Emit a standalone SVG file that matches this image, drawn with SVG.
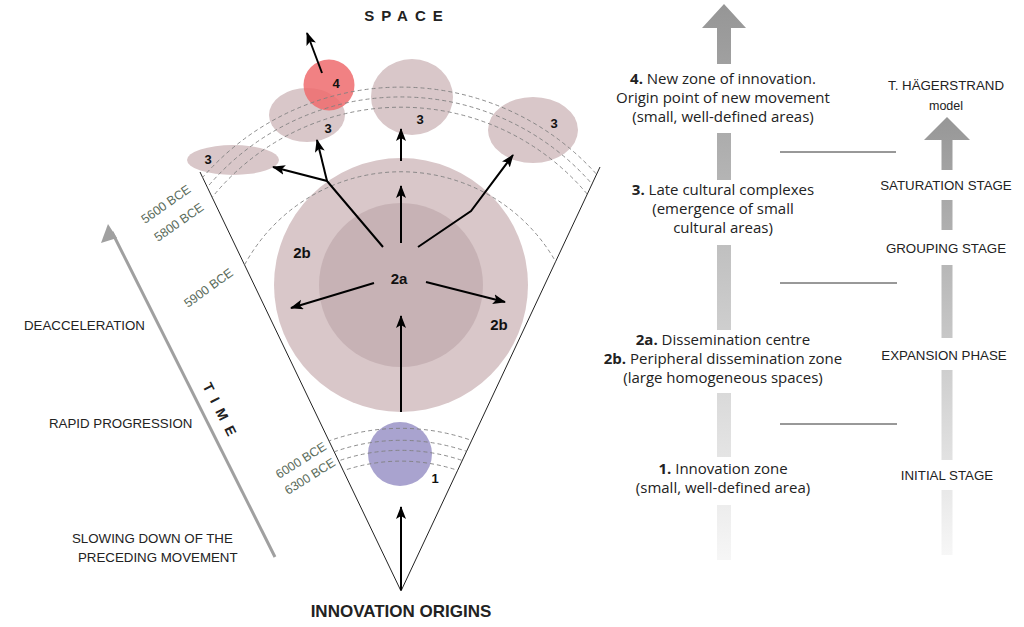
<svg xmlns="http://www.w3.org/2000/svg" width="1024" height="627" viewBox="0 0 1024 627">
<style>
.cap{font-family:"Liberation Sans",Arial,sans-serif;font-size:13.3px;fill:#222}
.body{font-family:"Open Sans","Liberation Sans",sans-serif;font-size:15px;fill:#222;text-anchor:middle}
.num{font-family:"Liberation Sans",Arial,sans-serif;font-size:13px;font-weight:bold;fill:#111;text-anchor:middle}
.date{font-family:"Liberation Sans",Arial,sans-serif;font-size:12.5px;fill:#5a6b5a}
.arr{stroke:#000;stroke-width:2;fill:none;marker-end:url(#ah)}
.dash{stroke:#808080;stroke-width:0.9;fill:none;stroke-dasharray:4 3}
.zone{fill:#d9c7c9}
</style>
<defs>
<marker id="ah" markerUnits="userSpaceOnUse" markerWidth="14" markerHeight="12" refX="12" refY="5" orient="auto">
<path d="M0,0 L13,5 L0,10 L3,5 Z" fill="#000"/>
</marker>
<linearGradient id="gL" gradientUnits="userSpaceOnUse" x1="0" y1="0" x2="0" y2="570">
<stop offset="0" stop-color="#959595"/><stop offset="1" stop-color="#f8f8f8"/>
</linearGradient>
<linearGradient id="gR" gradientUnits="userSpaceOnUse" x1="0" y1="110" x2="0" y2="570">
<stop offset="0" stop-color="#959595"/><stop offset="1" stop-color="#fafafa"/>
</linearGradient>
<clipPath id="cone"><polygon points="401,591 117,0 679,0"/></clipPath>
</defs>

<!-- left axis -->
<g id="time-axis">
<line x1="275" y1="557" x2="112" y2="232" stroke="#a0a0a0" stroke-width="3"/>
<path d="M108,224 L101,243 L117,238 Z" fill="#a0a0a0"/>
<text class="cap" transform="translate(217,415) rotate(63.3)" text-anchor="middle" style="font-size:14px;font-weight:bold;letter-spacing:8px">TIME</text>
</g>
<g id="left-labels">
<text class="cap" x="24" y="330">DEACCELERATION</text>
<text class="cap" x="49" y="428">RAPID PROGRESSION</text>
<text class="cap" x="72" y="543">SLOWING DOWN OF THE</text>
<text class="cap" x="78" y="562">PRECEDING MOVEMENT</text>
</g>

<!-- cone -->
<g id="cone-lines">
<path d="M200,172 L401,591 L600,167" fill="none" stroke="#222" stroke-width="1"/>
</g>

<g id="zone-2b"><circle cx="401" cy="285" r="127" class="zone"/>
<text class="num" x="302" y="258" style="font-size:15px">2b</text>
<text class="num" x="499" y="330" style="font-size:15px">2b</text></g>
<g id="zone-2a"><circle cx="401" cy="285" r="82" fill="#c7b2b5"/>
<text class="num" x="399" y="284" style="font-size:15px">2a</text></g>
<g id="zone-1"><circle cx="400" cy="454" r="32" fill="#a9a3cf"/>
<text class="num" x="435" y="483">1</text></g>

<g id="zone-3a"><ellipse cx="233" cy="160" rx="46" ry="15" class="zone"/><text class="num" x="208" y="164">3</text></g>
<g id="zone-3b"><ellipse cx="307" cy="115" rx="38" ry="27" class="zone"/><text class="num" x="328" y="133">3</text></g>
<g id="zone-4"><circle cx="329" cy="85" r="25.5" fill="#ee6b6d" fill-opacity="0.85"/><text class="num" x="336" y="88">4</text></g>
<g id="zone-3c"><ellipse cx="412" cy="97" rx="41" ry="38" class="zone"/><text class="num" x="420" y="124">3</text></g>
<g id="zone-3d"><ellipse cx="533" cy="130" rx="45" ry="33" class="zone"/><text class="num" x="554" y="128">3</text></g>

<!-- isochrones -->
<g id="isochrones" clip-path="url(#cone)">
<path class="dash" d="M181,206 A263,263 0 0 1 621,206"/>
<path class="dash" d="M181,225 A253,253 0 0 1 621,225"/>
<path class="dash" d="M181,247 A243,243 0 0 1 621,247"/>
<path class="dash" d="M231,297 A178,178 0 0 1 571,297"/>
<path class="dash" d="M321,444 A212,212 0 0 1 481,444"/>
<path class="dash" d="M321,457 A200,200 0 0 1 481,457"/>
<path class="dash" d="M321,468 A190,190 0 0 1 481,468"/>
<path class="dash" d="M321,480 A179,179 0 0 1 481,480"/>
</g>
<g id="dates">
<text class="date" transform="translate(145,224) rotate(-35)">5600 BCE</text>
<text class="date" transform="translate(158,242) rotate(-35)">5800 BCE</text>
<text class="date" transform="translate(188,308) rotate(-36)">5900 BCE</text>
<text class="date" transform="translate(279,479) rotate(-32)">6000 BCE</text>
<text class="date" transform="translate(288,495) rotate(-32)">6300 BCE</text>
</g>

<!-- connectors -->
<g id="connectors">
<path class="arr" d="M401,590 L401,507"/>
<path class="arr" d="M401,412 L401,316"/>
<path class="arr" d="M374,283 L291,308"/>
<path class="arr" d="M426,282 L505,302"/>
<path class="arr" d="M401,243 L401,186"/>
<path class="arr" d="M401,161 L401,129"/>
<path class="arr" d="M383,247 L327,181 L273,167"/>
<path class="arr" d="M327,181 L317,140"/>
<path class="arr" d="M418,247 L471,211 L513,155"/>
<path class="arr" d="M322,73 L307,33"/>
</g>

<g id="title-space"><text class="cap" x="407" y="21" text-anchor="middle" style="font-size:15px;font-weight:bold;letter-spacing:7px">SPACE</text></g>
<g id="title-origins"><text class="cap" x="401" y="617" text-anchor="middle" style="font-size:17px;font-weight:bold">INNOVATION ORIGINS</text></g>

<!-- central stage column -->
<g id="stage-column">
<path d="M724,4 L746,28 L731,28 L731,64 L717,64 L717,28 L702,28 Z" fill="url(#gL)"/>
<rect x="717" y="133" width="14" height="47" fill="url(#gL)"/>
<rect x="717" y="245" width="14" height="85" fill="url(#gL)"/>
<rect x="717" y="393" width="14" height="64" fill="url(#gL)"/>
<rect x="717" y="505" width="14" height="55" fill="url(#gL)"/>
</g>
<g id="stage-4"><text class="body" x="723" y="84"><tspan font-weight="bold">4.</tspan> New zone of innovation.</text>
<text class="body" x="723" y="103">Origin point of new movement</text>
<text class="body" x="723" y="122">(small, well-defined areas)</text></g>
<g id="stage-3"><text class="body" x="723" y="195"><tspan font-weight="bold">3.</tspan> Late cultural complexes</text>
<text class="body" x="723" y="214">(emergence of small</text>
<text class="body" x="723" y="233">cultural areas)</text></g>
<g id="stage-2"><text class="body" x="723" y="345"><tspan font-weight="bold">2a.</tspan> Dissemination centre</text>
<text class="body" x="723" y="364"><tspan font-weight="bold">2b.</tspan> Peripheral dissemination zone</text>
<text class="body" x="723" y="383">(large homogeneous spaces)</text></g>
<g id="stage-1"><text class="body" x="723" y="474"><tspan font-weight="bold">1.</tspan> Innovation zone</text>
<text class="body" x="723" y="493">(small, well-defined area)</text></g>

<g id="dividers" stroke="#333" stroke-width="1">
<line x1="780" y1="152" x2="896" y2="152"/>
<line x1="780" y1="283" x2="897" y2="283"/>
<line x1="780" y1="424" x2="897" y2="424"/>
</g>

<!-- Hagerstrand column -->
<g id="hagerstrand-column">
<path d="M947,117 L970,140 L952.5,140 L952.5,170 L941.5,170 L941.5,140 L924,140 Z" fill="url(#gR)"/>
<rect x="941.5" y="200" width="11" height="30" fill="url(#gR)"/>
<rect x="941.5" y="265" width="11" height="73" fill="url(#gR)"/>
<rect x="941.5" y="370" width="11" height="90" fill="url(#gR)"/>
<rect x="941.5" y="490" width="11" height="65" fill="url(#gR)"/>
</g>
<g id="hagerstrand-title"><text class="cap" x="946" y="90" text-anchor="middle">T. HÄGERSTRAND</text>
<text class="cap" x="946" y="110" text-anchor="middle" style="font-size:12.5px">model</text></g>
<g id="h-saturation"><text class="cap" x="946" y="190" text-anchor="middle">SATURATION STAGE</text></g>
<g id="h-grouping"><text class="cap" x="946" y="253" text-anchor="middle">GROUPING STAGE</text></g>
<g id="h-expansion"><text class="cap" x="944" y="360" text-anchor="middle">EXPANSION PHASE</text></g>
<g id="h-initial"><text class="cap" x="947" y="480" text-anchor="middle">INITIAL STAGE</text></g>
</svg>
